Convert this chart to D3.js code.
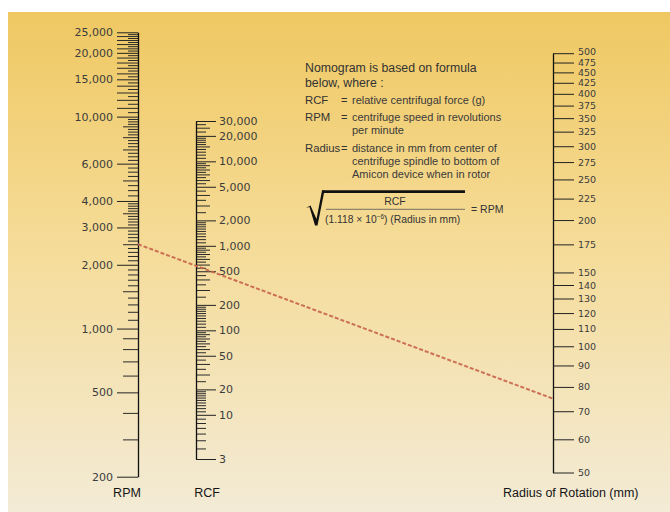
<!DOCTYPE html>
<html>
<head>
<meta charset="utf-8">
<script src="https://cdn.jsdelivr.net/npm/d3@7"></script>
<style>
  body { margin: 0; background: #fff; }
  svg { display: block; }
</style>
</head>
<body>
<script>
// data: labelled ticks and minor tick ranges [from, to, step]
const rpmLabels = [200, 500, 1000, 2000, 3000, 4000, 6000, 10000, 15000, 20000, 25000];
const rpmLongRanges = [[10000, 25000, 1000]];
const rpmMidRanges = [[200, 1000, 100], [1000, 2000, 500], [2000, 4000, 500], [4000, 10000, 1000]];
const rpmShortRanges = [[1000, 2000, 100], [2000, 4000, 100], [4000, 10000, 250], [10000, 25000, 500]];

const rcfLabels = [3, 10, 20, 50, 100, 200, 500, 1000, 2000, 5000, 10000, 20000, 30000];
const rcfMidRanges = [[20, 100, 10], [200, 1000, 100], [2000, 10000, 1000], [10000, 30000, 5000]];
const rcfShortRanges = [[3, 20, 1], [20, 100, 5], [100, 200, 10], [200, 1000, 50], [1000, 2000, 100], [2000, 10000, 500], [10000, 20000, 1000], [20000, 30000, 2500]];

const radiusLabels = [50, 60, 70, 80, 90, 100, 110, 120, 130, 140, 150, 175, 200, 225, 250, 275, 300, 325, 350, 375, 400, 425, 450, 475, 500];

const exampleRpm = 2500;
const exampleRadius = 75;

const noteLines = ["Nomogram is based on formula", "below, where :"];
const defTerms = ["RCF", "RPM", "Radius"];
const defTexts = [
  ["relative centrifugal force (g)"],
  ["centrifuge speed in revolutions", "per minute"],
  ["distance in mm from center of", "centrifuge spindle to bottom of", "Amicon device when in rotor"]
];

// layout
const W = 670, H = 512;
const rpmX = 138, rcfX = 196, radX = 553;
const font = "'DejaVu Sans', sans-serif";
const textFont = "'Liberation Sans', Arial, sans-serif";

const svg = d3.select("body").append("svg")
  .attr("width", W)
  .attr("height", H);

// background gradient
const grad = svg.append("defs").append("linearGradient")
  .attr("id", "bg").attr("x1", 0).attr("y1", 0).attr("x2", 0).attr("y2", 1);
grad.append("stop").attr("offset", "0%").attr("stop-color", "#efc862");
grad.append("stop").attr("offset", "45%").attr("stop-color", "#f5db96");
grad.append("stop").attr("offset", "100%").attr("stop-color", "#f3ebd6");

svg.append("rect")
  .attr("x", 8).attr("y", 12)
  .attr("width", W - 8).attr("height", H - 12)
  .attr("fill", "url(#bg)");

// scales
const yRpm = d3.scaleLog().domain([200, 25000]).range([476.7, 32.3]);
const yRcf = d3.scaleLog().domain([3, 30000]).range([459, 121]);
const yRad = d3.scaleLog().domain([50, 500]).range([472.5, 53.2]);

const fromRanges = (ranges, skip) => {
  const out = [];
  ranges.forEach(([a, b, s]) => {
    for (let v = a; v <= b + 1e-9; v += s) {
      if (!skip.includes(v) && !out.includes(v)) out.push(v);
    }
  });
  return out;
};

// minor ticks, then major ticks with labels
function minor(g, axisFn, scale, vals, size) {
  const a = axisFn(scale).tickValues(vals).tickSize(size).tickFormat("").tickSizeOuter(0);
  const sel = g.append("g").call(a);
  sel.select(".domain").remove();
  sel.selectAll("line").attr("stroke", "#2a2a2a");
}

function major(g, axisFn, scale, vals, size, pad, fs) {
  const a = axisFn(scale).tickValues(vals).tickSize(size).tickPadding(pad)
    .tickSizeOuter(0).tickFormat(d3.format(","));
  const sel = g.append("g").call(a);
  sel.attr("font-family", font).attr("font-size", fs);
  sel.select(".domain").attr("stroke", "#111").attr("stroke-width", 1.3);
  sel.selectAll("line").attr("stroke", "#222");
  sel.selectAll("text").attr("fill", "#3c3c3c");
  return sel;
}

// RPM axis
const gRpm = svg.append("g").attr("transform", `translate(${rpmX},0)`);
const rpmLong = fromRanges(rpmLongRanges, rpmLabels);
const rpmMid = fromRanges(rpmMidRanges, rpmLabels.concat(rpmLong));
const rpmShort = fromRanges(rpmShortRanges, rpmLabels.concat(rpmLong, rpmMid));
minor(gRpm, d3.axisLeft, yRpm, rpmShort, 10);
minor(gRpm, d3.axisLeft, yRpm, rpmMid, 15);
minor(gRpm, d3.axisLeft, yRpm, rpmLong, 21);
major(gRpm, d3.axisLeft, yRpm, rpmLabels, 21, 4, 11);

// RCF axis
const gRcf = svg.append("g").attr("transform", `translate(${rcfX},0)`);
const rcfMid = fromRanges(rcfMidRanges, rcfLabels);
const rcfShort = fromRanges(rcfShortRanges, rcfLabels.concat(rcfMid));
minor(gRcf, d3.axisRight, yRcf, rcfShort, 10);
minor(gRcf, d3.axisRight, yRcf, rcfMid, 14);
major(gRcf, d3.axisRight, yRcf, rcfLabels, 20, 3, 11);

// Radius axis (top label nudged up a touch, ticks are tight there)
const gRad = svg.append("g").attr("transform", `translate(${radX},0)`);
major(gRad, d3.axisRight, yRad, radiusLabels, 21, 4, 9.5)
  .selectAll(".tick text")
  .filter(d => d === 500)
  .attr("dy", "0.15em");

// example reading line
svg.append("line")
  .attr("x1", rpmX).attr("y1", yRpm(exampleRpm))
  .attr("x2", radX).attr("y2", yRad(exampleRadius))
  .attr("stroke", "#c8644c")
  .attr("stroke-width", 2)
  .attr("stroke-dasharray", "4,2")
  .attr("opacity", 0.9);

// axis titles
const titles = svg.append("g")
  .attr("font-family", textFont)
  .attr("font-size", 12.5)
  .attr("fill", "#151515");
titles.append("text").attr("x", 127).attr("y", 497).attr("text-anchor", "middle").text("RPM");
titles.append("text").attr("x", 207).attr("y", 497).attr("text-anchor", "middle").text("RCF");
titles.append("text").attr("x", 503).attr("y", 497).text("Radius of Rotation (mm)");

// notes block
const note = svg.append("g")
  .attr("font-family", textFont)
  .attr("fill", "#333");

note.selectAll(".head")
  .data(noteLines)
  .enter().append("text")
  .attr("x", 305)
  .attr("y", (d, i) => 72 + i * 14.5)
  .attr("font-size", 12.3)
  .text(d => d);

const defY = [104, 121, 152];
defTerms.forEach((t, i) => {
  note.append("text").attr("x", 305).attr("y", defY[i]).attr("font-size", 11.3).text(t);
  note.append("text").attr("x", 341).attr("y", defY[i]).attr("font-size", 11).text("=");
  defTexts[i].forEach((line, j) => {
    note.append("text")
      .attr("x", 352)
      .attr("y", defY[i] + j * 13)
      .attr("font-size", 11)
      .attr("fill", "#3a3a3a")
      .text(line);
  });
});

// formula with radical sign
note.append("path")
  .attr("d", "M306,208 L310.5,205.5 L316.5,219 L322,190.4 L324.5,190.4 L317.5,225.5 L315,225.5 L309.5,207 Z")
  .attr("fill", "#111");
note.append("line")
  .attr("x1", 322).attr("x2", 465)
  .attr("y1", 191.6).attr("y2", 191.6)
  .attr("stroke", "#111").attr("stroke-width", 2.6);
note.append("text")
  .attr("x", 395).attr("y", 205)
  .attr("text-anchor", "middle")
  .attr("font-size", 10.5)
  .text("RCF");
note.append("line")
  .attr("x1", 326).attr("x2", 465)
  .attr("y1", 209.3).attr("y2", 209.3)
  .attr("stroke", "#555").attr("stroke-width", 0.8);
const den = note.append("text")
  .attr("x", 325).attr("y", 223)
  .attr("font-size", 10.3);
den.append("tspan").text("(1.118 \u00d7 10");
den.append("tspan").attr("dy", -4).attr("font-size", 6.5).text("\u22126");
den.append("tspan").attr("dy", 4).text(") (Radius in mm)");
note.append("text")
  .attr("x", 471).attr("y", 213)
  .attr("font-size", 10.5)
  .text("= RPM");
</script>
</body>
</html>
